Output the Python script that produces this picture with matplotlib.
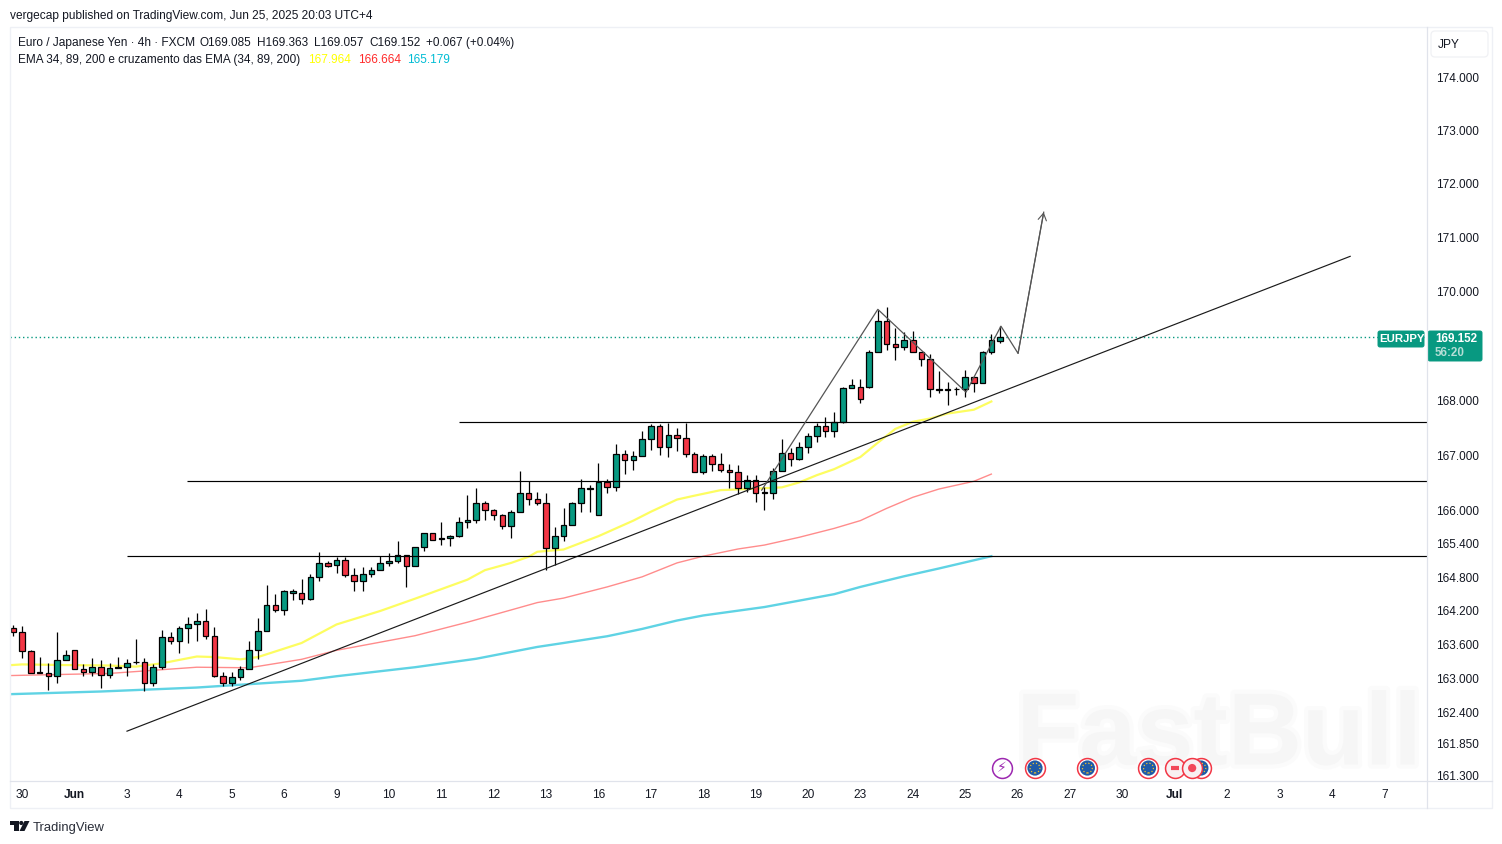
import numpy as np
import matplotlib
matplotlib.use('Agg')
import matplotlib.pyplot as plt
import matplotlib.patheffects as pe
from matplotlib.patches import Rectangle, FancyBboxPatch, Polygon, Circle
from matplotlib.ticker import NullLocator

opens = [163.89, 163.82, 163.48, 163.11, 163.10, 163.04, 163.32, 163.51, 163.16, 163.11,
         163.21, 163.07, 163.19, 163.21, 163.29, 163.30, 162.92, 163.21, 163.73, 163.66,
         163.89, 163.96, 164.02, 163.76, 163.04, 162.92, 163.03, 163.17, 163.50, 163.84,
         164.30, 164.21, 164.53, 164.53, 164.41, 164.80, 165.05, 165.02, 165.12, 164.84,
         164.73, 164.87, 164.94, 165.05, 165.09, 165.21, 165.00, 165.34, 165.59, 165.49,
         165.50, 165.55, 165.80, 165.83, 166.14, 166.01, 165.92, 165.73, 165.98, 166.32,
         166.21, 166.14, 165.33, 165.55, 165.75, 166.14, 166.39, 165.92, 166.51, 166.43,
         167.02, 166.91, 166.99, 167.30, 167.54, 167.15, 167.37, 167.32, 167.02, 166.69,
         166.99, 166.84, 166.73, 166.69, 166.40, 166.56, 166.32, 166.32, 166.71, 167.04,
         166.93, 167.15, 167.35, 167.54, 167.45, 167.61, 168.23, 168.25, 168.25, 168.89,
         169.46, 169.04, 168.97, 169.11, 168.88, 168.76, 168.19, 168.19, 168.20, 168.21,
         168.42, 168.32, 168.89, 169.085]
closes = [163.82, 163.48, 163.10, 163.10, 163.04, 163.32, 163.42, 163.16, 163.11, 163.21,
          163.07, 163.19, 163.21, 163.28, 163.30, 162.92, 163.21, 163.73, 163.66, 163.89,
          163.96, 164.02, 163.76, 163.04, 162.92, 163.02, 163.17, 163.50, 163.84, 164.30,
          164.21, 164.55, 164.55, 164.41, 164.80, 165.05, 165.01, 165.12, 164.84, 164.73,
          164.87, 164.94, 165.05, 165.09, 165.21, 165.00, 165.34, 165.59, 165.48, 165.50,
          165.55, 165.80, 165.83, 166.14, 166.01, 165.92, 165.73, 165.98, 166.32, 166.21,
          166.14, 165.33, 165.55, 165.75, 166.14, 166.40, 166.40, 166.51, 166.43, 167.02,
          166.91, 166.99, 167.30, 167.54, 167.15, 167.37, 167.32, 167.02, 166.69, 166.99,
          166.84, 166.73, 166.69, 166.40, 166.56, 166.32, 166.33, 166.71, 167.04, 166.93,
          167.15, 167.35, 167.54, 167.45, 167.61, 168.23, 168.29, 168.03, 168.89, 169.46,
          169.04, 168.97, 169.11, 168.88, 168.76, 168.20, 168.20, 168.20, 168.21, 168.42,
          168.32, 168.89, 169.10, 169.152]
highs = [163.95, 163.93, 163.51, 163.39, 163.28, 163.82, 163.51, 163.51, 163.26, 163.37,
         163.32, 163.28, 163.39, 163.34, 163.70, 163.37, 163.25, 163.86, 163.82, 163.93,
         164.09, 164.16, 164.24, 163.91, 163.11, 163.11, 163.23, 163.66, 164.07, 164.67,
         164.50, 164.58, 164.59, 164.77, 164.87, 165.26, 165.10, 165.16, 165.17, 164.97,
         164.99, 164.98, 165.19, 165.23, 165.45, 165.21, 165.35, 165.59, 165.60, 165.79,
         165.57, 165.88, 166.28, 166.40, 166.18, 166.03, 165.94, 166.01, 166.71, 166.53,
         166.33, 166.31, 165.71, 166.05, 166.16, 166.58, 166.46, 166.86, 166.58, 167.21,
         167.10, 167.08, 167.44, 167.57, 167.57, 167.59, 167.50, 167.58, 167.06, 167.02,
         167.02, 167.05, 166.84, 166.82, 166.64, 166.65, 166.42, 166.77, 167.30, 167.13,
         167.24, 167.41, 167.59, 167.69, 167.79, 168.24, 168.40, 168.40, 168.93, 169.66,
         169.71, 169.32, 169.26, 169.28, 168.89, 168.84, 168.53, 168.34, 168.25, 168.56,
         168.42, 168.91, 169.21, 169.363]
lows = [163.76, 163.36, 163.10, 163.10, 162.79, 162.92, 163.32, 163.16, 163.04, 163.05,
        162.83, 163.01, 163.19, 163.05, 163.25, 162.78, 162.87, 163.17, 163.61, 163.45,
        163.63, 163.66, 163.70, 163.02, 162.87, 162.87, 162.97, 163.17, 163.35, 163.84,
        164.19, 164.13, 164.39, 164.33, 164.39, 164.74, 164.99, 164.88, 164.81, 164.55,
        164.55, 164.81, 164.94, 165.00, 165.05, 164.62, 165.00, 165.28, 165.48, 165.38,
        165.36, 165.53, 165.68, 165.78, 165.83, 165.83, 165.67, 165.50, 165.98, 166.10,
        166.10, 164.93, 165.03, 165.46, 165.75, 165.97, 165.97, 165.92, 166.32, 166.35,
        166.67, 166.74, 166.99, 167.09, 167.01, 166.97, 167.07, 166.97, 166.69, 166.67,
        166.72, 166.70, 166.40, 166.30, 166.34, 166.16, 166.02, 166.21, 166.71, 166.81,
        166.92, 167.05, 167.25, 167.33, 167.34, 167.59, 168.23, 167.95, 168.23, 168.89,
        168.92, 168.74, 168.92, 168.88, 168.63, 168.06, 168.14, 167.91, 168.10, 168.06,
        168.16, 168.32, 168.84, 169.057]

ema34_idx = [-1, 1, 5, 11, 14, 17, 21, 23, 26, 28, 33, 37, 42, 46, 52, 54, 57, 59, 60, 63, 67, 71,
             73, 76, 78, 81, 84, 88, 90, 92, 94, 97, 99, 101, 103, 105, 107, 110, 112]
ema34 = [163.23, 163.25, 163.24, 163.23, 163.21, 163.27, 163.39, 163.38, 163.34, 163.38, 163.63,
         163.96, 164.20, 164.42, 164.76, 164.93, 165.06, 165.17, 165.26, 165.30, 165.54, 165.82,
         165.98, 166.20, 166.27, 166.37, 166.39, 166.42, 166.51, 166.64, 166.75, 166.97, 167.23,
         167.48, 167.61, 167.67, 167.76, 167.83, 167.98]
ema89_idx = [-1, 11, 21, 27, 33, 37, 46, 52, 60, 63, 68, 72, 76, 79, 83, 86, 90, 94, 97, 100, 103, 106, 110, 112]
ema89 = [163.05, 163.09, 163.20, 163.19, 163.34, 163.50, 163.76, 164.00, 164.35, 164.43, 164.63, 164.81,
         165.06, 165.18, 165.31, 165.38, 165.52, 165.68, 165.82, 166.04, 166.24, 166.39, 166.53, 166.66]
ema200_idx = [-1, 10, 21, 33, 37, 46, 53, 60, 63, 68, 72, 76, 79, 86, 94, 97, 102, 106, 112]
ema200 = [162.72, 162.77, 162.84, 162.96, 163.04, 163.20, 163.35, 163.56, 163.63, 163.75, 163.88, 164.03,
          164.12, 164.27, 164.50, 164.63, 164.82, 164.96, 165.18]

# drawings on the chart, bar index and price
trend_idx = [13, 153.1]
trend_price = [162.07, 170.65]
level_start = [51, 19.9, 13]
level_price = [167.605, 166.54, 165.18]
zigzag_idx = [85.7, 99, 109.1, 113.1, 115.06, 118]
zigzag_price = [166.37, 169.67, 168.15, 169.36, 168.86, 171.47]

price_ticks = [174, 173, 172, 171, 170, 168, 167, 166, 165.4, 164.8, 164.2, 163.6, 163, 162.4, 161.85, 161.3]
date_labels = ['30', 'Jun', '3', '4', '5', '6', '9', '10', '11', '12', '13', '16', '17', '18',
               '19', '20', '23', '24', '25', '26', '27', '30', 'Jul', '2', '3', '4', '7']
flag_events = [117, 123, 130, 136]
dot_events = [133, 135]
bolt_event = 113.2
last_price = 169.152

GREEN = '#089981'
RED = '#F23645'
TEXT = '#131722'
BORDER = '#E0E3EB'

plt.rcParams['font.family'] = ['Liberation Sans', 'DejaVu Sans']

fig = plt.figure(figsize=(15.02, 8.44), dpi=100, facecolor='white')
ax = fig.add_axes([10 / 1502, 1 - 781 / 844, 1417 / 1502, 754 / 844])
ax.set_yscale('log')
ax.set_xlim(-0.4, 161.9)
ax.set_ylim(161.195, 174.955)

x = np.arange(len(opens))
o = np.array(opens)
c = np.array(closes)
colors = [GREEN if cc >= oo else RED for oo, cc in zip(o, c)]

# watermark sits under everything in the pane
wm = ax.text(0.8532, 0.057, 'FastBull', fontsize=74, fontweight='bold', color='#F6F6F6',
             ha='center', va='center', transform=ax.transAxes, zorder=0.5)
wm.set_path_effects([pe.withStroke(linewidth=6, foreground='#FBFBFB')])

ax.plot(ema34_idx, ema34, color='#FDFD60', lw=1.6, zorder=2, solid_joinstyle='round')
ax.plot(ema89_idx, ema89, color='#FF8C8C', lw=1.0, zorder=2, solid_joinstyle='round')
ax.plot(ema200_idx, ema200, color='#5FD3E4', lw=1.7, zorder=2, solid_joinstyle='round')

ax.axhline(last_price, color=GREEN, lw=1.0, ls=(0, (1, 2)), zorder=1)

ax.vlines(x, lows, highs, color='black', lw=0.9, zorder=3)
ax.bar(x, np.abs(c - o), bottom=np.minimum(o, c), width=0.64, color=colors,
       edgecolor='black', linewidth=0.9, zorder=3.5)

ax.plot(trend_idx, trend_price, color='#1a1a1a', lw=0.85, zorder=4)
ax.hlines(level_price, level_start, 161.9, color='black', lw=0.85, zorder=4)
ax.plot(zigzag_idx, zigzag_price, color='#555555', lw=0.9, zorder=4)
ax.annotate('', xy=(zigzag_idx[-1], zigzag_price[-1]), xytext=(zigzag_idx[-2], zigzag_price[-2]),
            arrowprops=dict(arrowstyle='->,head_length=0.5,head_width=0.3', color='#555555', lw=0.8,
                            mutation_scale=10, shrinkA=0, shrinkB=0), zorder=4)

# axis ticks
ax.yaxis.tick_right()
ax.yaxis.set_minor_locator(NullLocator())
ax.set_yticks(price_ticks)
ax.set_yticklabels(['%.3f' % p for p in price_ticks], fontsize=8.45, color=TEXT)
ax.set_xticks(1 + 6 * np.arange(len(date_labels)))
ax.set_xticklabels(date_labels, fontsize=8.6, color=TEXT)
ax.tick_params(axis='y', which='both', length=0, pad=6.4)
ax.tick_params(axis='x', length=0, pad=5.5)
for lab in ax.get_xticklabels():
    if lab.get_text() in ('Jun', 'Jul'):
        lab.set_fontweight('bold')
for side in ax.spines:
    ax.spines[side].set_visible(False)

# calendar events along the bottom of the pane
event_tr = ax.get_xaxis_transform()
event_y = 0.0172
ax.scatter(flag_events, [event_y] * 4, s=205, facecolor='white', edgecolor=RED, linewidth=1.1,
           transform=event_tr, zorder=5, clip_on=False)
ax.scatter(flag_events, [event_y] * 4, s=120, facecolor='#1F5AA6', edgecolor='none',
           transform=event_tr, zorder=5.1)
ax.scatter(flag_events, [event_y] * 4, s=50, facecolor='none', edgecolor='#F2C230', linewidth=0.9,
           linestyle=':', transform=event_tr, zorder=5.2)
ax.scatter(dot_events, [event_y] * 2, s=205, facecolor='#F8F0F2', edgecolor=RED, linewidth=1.1,
           transform=event_tr, zorder=5.3)
ax.scatter(dot_events[1:], [event_y], s=35, facecolor='#F2485A', edgecolor='none', transform=event_tr, zorder=5.4)
ax.scatter(dot_events[:1], [event_y], s=35, marker='_', color='#F2485A', linewidth=3, transform=event_tr, zorder=5.4)
ax.scatter([bolt_event], [event_y], s=205, facecolor='white', edgecolor='#9C27B0', linewidth=1.1,
           transform=event_tr, zorder=5)
ax.text(bolt_event, event_y, '\u26a1', color='#9C27B0', fontsize=10, ha='center', va='center',
        family='DejaVu Sans', transform=event_tr, zorder=5.5)

# overlay in pixels for the frame, header and labels
ov = fig.add_axes([0, 0, 1, 1], facecolor='none')
ov.set_xlim(0, 1502)
ov.set_ylim(844, 0)
ov.axis('off')

ov.add_patch(Rectangle((10, 27), 1482, 781, fill=False, edgecolor='#EEF0F5', lw=1.0))
ov.plot([1427, 1427], [27, 808], color=BORDER, lw=0.9)
ov.plot([10, 1492], [781, 781], color=BORDER, lw=0.9)

ov.text(10, 16, 'vergecap published on TradingView.com, Jun 25, 2025 20:03 UTC+4', fontsize=8.6,
        color=TEXT, va='center')
ov.text(18, 43, 'Euro / Japanese Yen \u00b7 4h \u00b7 FXCM', fontsize=8.6, color=TEXT, va='center')
for px, s in zip([199, 257, 314, 369, 426], ['O169.085', 'H169.363', 'L169.057', 'C169.152', '+0.067 (+0.04%)']):
    ov.text(px, 43, s, fontsize=8.5, color=TEXT, va='center')
ov.text(18, 60, 'EMA 34, 89, 200 e cruzamento das EMA (34, 89, 200)', fontsize=8.5, color=TEXT, va='center')
ov.text(308, 60, '167.964', fontsize=8.5, color='#FFFF00', va='center')
ov.text(358, 60, '166.664', fontsize=8.5, color='#FF2A2A', va='center')
ov.text(407, 60, '165.179', fontsize=8.5, color='#00BCD4', va='center')

# price label
ov.add_patch(FancyBboxPatch((1378, 331), 46, 16, boxstyle='round,pad=0,rounding_size=2', fc=GREEN, ec=GREEN, lw=0.7))
ov.add_patch(FancyBboxPatch((1428, 331), 54, 30, boxstyle='round,pad=0,rounding_size=2', fc=GREEN, ec=GREEN, lw=0.7))
ov.text(1401.5, 339.5, 'EURJPY', fontsize=8.2, fontweight='bold', color='white', ha='center', va='center')
ov.text(1456, 339.5, '169.152', fontsize=8.4, fontweight='bold', color='white', ha='center', va='center')
ov.text(1450, 353.5, '56:20', fontsize=8.4, fontweight='bold', color='#B5DED6', ha='center', va='center')

# currency button
ov.add_patch(FancyBboxPatch((1431, 31), 57, 26, boxstyle='round,pad=0,rounding_size=4', fc='white', ec='#F0F1F4', lw=0.9))
ov.text(1449, 45, 'JPY', fontsize=8.6, color=TEXT, ha='center', va='center')

# TradingView logo
ov.add_patch(Rectangle((10, 821), 8.5, 4, fc='#131722', ec='none'))
ov.add_patch(Rectangle((13.5, 821), 5, 10, fc='#131722', ec='none'))
ov.add_patch(Circle((21.3, 823), 2.1, fc='#131722', ec='none'))
ov.add_patch(Polygon([(24.5, 821), (29.5, 821), (24.5, 831), (19.5, 831)], fc='#131722', ec='none'))
ov.text(33, 827.5, 'TradingView', fontsize=9.4, color='#2A2E39', va='center')

fig.savefig('out.png', dpi=100)
